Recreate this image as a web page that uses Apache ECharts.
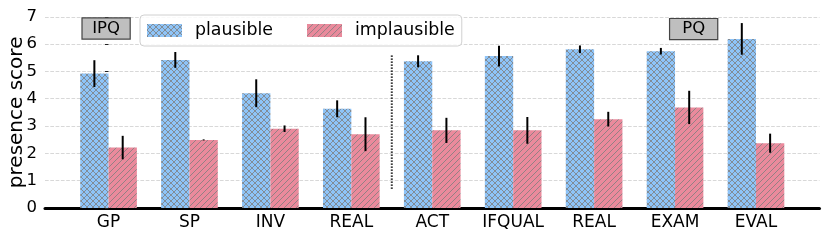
<!DOCTYPE html>
<html><head><meta charset="utf-8">
<script src="https://cdn.jsdelivr.net/npm/echarts@6/dist/echarts.min.js"></script>
<style>html,body{margin:0;padding:0;background:#fff}#c{width:830px;height:242px}</style>
</head><body><div id="c"></div>
<script>
const categories = ['GP','SP','INV','REAL','ACT','IFQUAL','REAL','EXAM','EVAL'];
const plausible = [4.92,5.42,4.20,3.63,5.37,5.56,5.81,5.74,6.19];
const plausibleErr = [0.49,0.29,0.51,0.31,0.22,0.38,0.14,0.12,0.58];
const implausible = [2.21,2.49,2.90,2.70,2.84,2.84,3.25,3.68,2.37];
const implausibleErr = [0.43,0.02,0.12,0.62,0.46,0.49,0.27,0.61,0.35];
const yTicks = [0,1,2,3,4,5,6,7];
const groupNames = ['IPQ','PQ'];
const groupX = [-0.03, 7.23];
const groupY = [6.57, 6.55];
const separatorX = 3.5;
const separatorY = [0.7, 5.6];

const FONT = 'DejaVu Sans';
function hatch(bg, cross, P) {
  const c = document.createElement('canvas'); c.width = P; c.height = P;
  const ctx = c.getContext('2d');
  ctx.fillStyle = bg; ctx.fillRect(0,0,P,P);
  ctx.strokeStyle = '#7d7d7d'; ctx.lineWidth = 0.8;
  ctx.beginPath();
  for (const o of [-P,0,P]) {
    ctx.moveTo(o, P); ctx.lineTo(o+P, 0);
    if (cross) { ctx.moveTo(o, 0); ctx.lineTo(o+P, P); }
  }
  ctx.stroke();
  return {image: c, repeat: 'repeat'};
}
const blueFill = hatch('#8ec4f8', true, 6);
const pinkFill = hatch('#ea8a9c', false, 6);

const chart = echarts.init(document.getElementById('c'), null, {renderer:'canvas'});
const errData = (vals, errs) => vals.map((v,i)=>[i, v, errs[i]]);
function errRender(sign) {
  return function(params, api) {
    const i = api.value(0), v = api.value(1), e = api.value(2);
    const bw = api.size([1,0])[0];
    const off = sign * bw * 0.175;
    const p1 = api.coord([i, v + e]);
    const p2 = api.coord([i, v - e]);
    return {type:'line', shape:{x1:p1[0]+off, y1:p1[1], x2:p2[0]+off, y2:p2[1]},
      style:{stroke:'#000', lineWidth:2}};
  };
}
const gTop = 16.8, gBottom = 34.1;
chart.setOption({
  animation: false,
  textStyle: {fontFamily: FONT},
  grid: [
    {left:45, right:10.5, top:gTop, bottom:gBottom, outerBoundsMode:'none', containLabel:false},
    {left:68.07, right:33.57, top:gTop, bottom:gBottom, outerBoundsMode:'none', containLabel:false}
  ],
  xAxis: [
    {gridIndex:0, type:'value', min:-0.785, max:8.785, axisLabel:{show:false}, axisTick:{show:false},
     splitLine:{show:false}, axisLine:{show:true, onZero:false, lineStyle:{color:'#000', width:3}}},
    {gridIndex:1, type:'category', data:categories, axisLine:{show:false}, axisTick:{show:false},
     splitLine:{show:false}, axisLabel:{color:'#000', fontSize:17, margin:6, fontFamily:FONT}}
  ],
  yAxis: [
    {gridIndex:0, type:'value', min:yTicks[0], max:yTicks[yTicks.length-1], interval:1,
     name:'presence score', nameLocation:'middle', nameGap:18, nameMoveOverlap:false,
     nameTextStyle:{fontSize:20, color:'#000', fontFamily:FONT},
     axisLine:{show:false}, axisTick:{show:true, length:3.5, lineStyle:{color:'#222', width:1}},
     axisLabel:{color:'#000', fontSize:16.5, margin:8, fontFamily:FONT},
     splitLine:{show:true, lineStyle:{color:'#d4d4d4', type:[3.7,1.6], width:0.9}}},
    {gridIndex:1, type:'value', min:0, max:7, show:false, axisLine:{show:false}, axisTick:{show:false},
     axisLabel:{show:false}, splitLine:{show:false}}
  ],
  legend: {
    data:['plausible','implausible'], left:140, top:15, orient:'horizontal',
    itemWidth:35, itemHeight:13, itemGap:34, icon:'rect',
    padding:[7,7,7,7], borderColor:'#d0d0d0', borderWidth:1, borderRadius:4,
    backgroundColor:'rgba(255,255,255,0.85)',
    textStyle:{fontSize:17.4, color:'#000', fontFamily:FONT, padding:[0,0,0,8]}
  },
  series: [
    {name:'plausible', type:'bar', xAxisIndex:1, yAxisIndex:1, data:plausible,
     barWidth:'35%', barGap:'0%', itemStyle:{color:blueFill, borderWidth:0}, z:2},
    {name:'implausible', type:'bar', xAxisIndex:1, yAxisIndex:1, data:implausible,
     barWidth:'35%', barGap:'0%', itemStyle:{color:pinkFill, borderWidth:0}, z:2},
    {name:'errP', type:'custom', xAxisIndex:1, yAxisIndex:1, data:errData(plausible, plausibleErr),
     renderItem:errRender(-1), z:5, silent:true},
    {name:'errI', type:'custom', xAxisIndex:1, yAxisIndex:1, data:errData(implausible, implausibleErr),
     renderItem:errRender(1), z:5, silent:true},
    {name:'sep', type:'line', xAxisIndex:0, yAxisIndex:0, symbol:'none', silent:true,
     data:[[separatorX, separatorY[0]],[separatorX, separatorY[1]]],
     lineStyle:{color:'#000', width:2, type:[1.4,1.6]}, z:3}
  ]
});
const boxes = groupNames.map((n,i) => {
  const p = chart.convertToPixel({gridIndex:0}, [groupX[i], groupY[i]]);
  return {type:'text', x:p[0], y:p[1], z:100,
    style:{text:n, fontSize:16.5, fontFamily:FONT, fill:'#000', align:'center', verticalAlign:'middle',
      backgroundColor:'#bfbfbf', borderColor:'#444', borderWidth:1.2,
      width:47, lineHeight:17, padding:[2,0,1,0]}};
});
chart.setOption({graphic: boxes});
</script></body></html>
